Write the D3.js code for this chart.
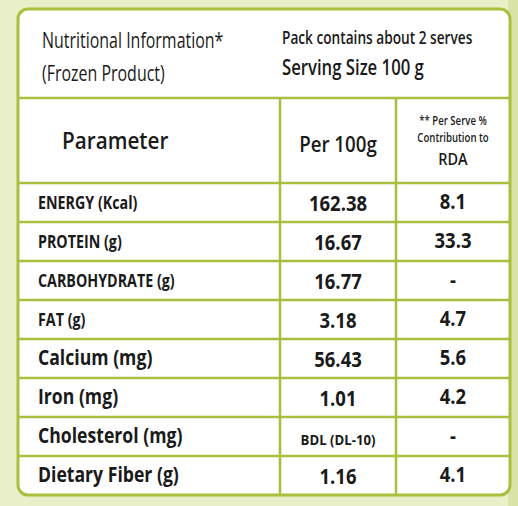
<!DOCTYPE html>
<html><head><meta charset="utf-8">
<script src="https://cdn.jsdelivr.net/npm/d3@7"></script>
<style>body{margin:0;background:#e9efc9}</style>
</head><body>
<svg id="chart" width="518" height="506"></svg>
<script>
// table content
var params = ["ENERGY (Kcal)","PROTEIN (g)","CARBOHYDRATE (g)","FAT (g)","Calcium (mg)","Iron (mg)","Cholesterol (mg)","Dietary Fiber (g)"];
var per100 = ["162.38","16.67","16.77","3.18","56.43","1.01","BDL (DL-10)","1.16"];
var rda = ["8.1","33.3","-","4.7","5.6","4.2","-","4.1"];
var labelSize = [17,17,17,17,21,21,21,21];

var svg = d3.select("#chart");
var green = "#a9bf3e";
var font = "'Open Sans', sans-serif";

svg.append("rect").attr("x",508).attr("y",0).attr("width",10).attr("height",506).attr("fill","#d9e4a6");
svg.append("rect").attr("x",18).attr("y",9).attr("width",492).attr("height",486)
	.attr("rx",10).attr("fill","#fff").attr("stroke",green).attr("stroke-width",3);

var y = d3.scaleBand().domain(d3.range(params.length)).range([183,495]);
var col = [18,280,396,510];

// grid lines
svg.append("line").attr("x1",18).attr("x2",510).attr("y1",98).attr("y2",98).attr("stroke",green).attr("stroke-width",2.5);
svg.append("line").attr("x1",18).attr("x2",510).attr("y1",183).attr("y2",183).attr("stroke",green).attr("stroke-width",2.5);
svg.selectAll(".hl").data(d3.range(1,params.length)).enter().append("line")
	.attr("x1",18).attr("x2",510).attr("y1",function(d){return y(d);}).attr("y2",function(d){return y(d);})
	.attr("stroke",green).attr("stroke-width",2.5);
[col[1],col[2]].forEach(function(x){
	svg.append("line").attr("x1",x).attr("x2",x).attr("y1",98).attr("y2",494).attr("stroke",green).attr("stroke-width",2.5);
});

function txt(x,yy,s,size,weight,anchor,sx){
	sx = sx||0.82;
	return svg.append("text").attr("x",x).attr("y",yy).text(s)
		.attr("font-family",font).attr("font-size",size).attr("font-weight",weight||"normal")
		.attr("text-anchor",anchor||"start").attr("fill","#1a1a1a")
		.attr("transform","translate("+x+","+yy+") scale("+sx+",1) translate("+(-x)+","+(-yy)+")");
}
txt(42,48,"Nutritional Information*",21,"normal","start",0.76);
txt(42,81,"(Frozen Product)",21,"normal","start",0.76);
txt(282,44,"Pack contains about 2 serves",18,"600","start",0.76);
txt(282,75,"Serving Size 100 g",22,"600","start",0.76);
txt(62,149,"Parameter",23,"600","start",0.9);
txt(338,152,"Per 100g",22,"600","middle",0.85);
txt(453,125,"** Per Serve %",12,"600","middle",0.8);
txt(453,142,"Contribution to",12,"600","middle",0.8);
txt(453,165,"RDA",17,"600","middle",0.85);

var bw = y.bandwidth();
params.forEach(function(p,i){
	var cy = y(i)+bw/2+7;
	txt(38,cy,p,labelSize[i],"bold","start",0.84);
	txt(338,cy+2,per100[i],per100[i].length>6?15:21,"bold","middle",0.88);
	txt(453,cy,rda[i],21,"bold","middle",0.88);
});
</script>
</body></html>
